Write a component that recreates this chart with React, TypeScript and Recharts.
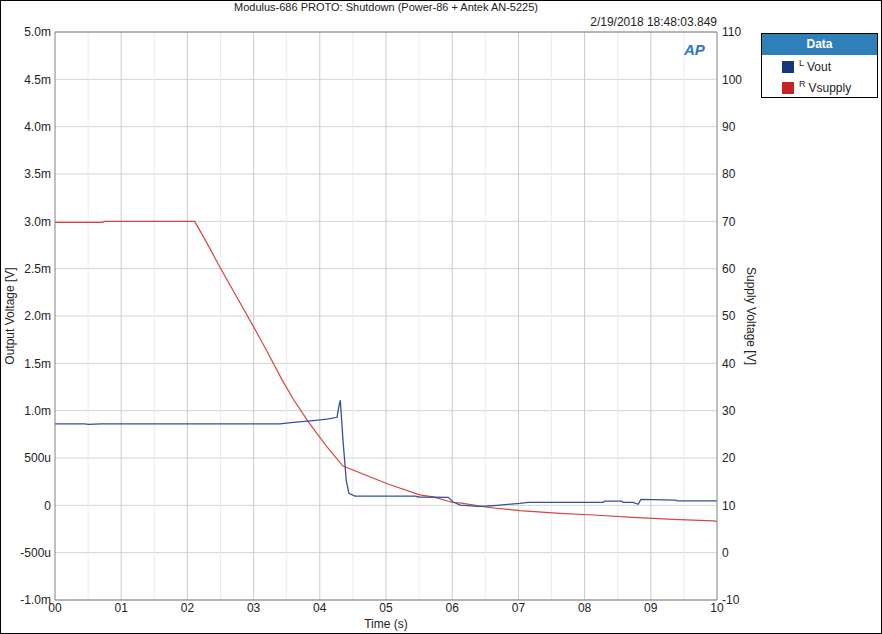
import { CartesianGrid, Line, LineChart, ReferenceLine, XAxis, YAxis } from 'recharts'

// Vout (left axis, mV)
const voutTime = [0, 0.45, 0.5, 0.7, 3.4, 3.6, 3.9, 4.11, 4.26, 4.29, 4.31, 4.35, 4.4, 4.44, 4.53, 5.44, 5.5, 5.94, 6.01, 6.12, 6.4, 6.53, 6.68, 7.02, 7.15, 8.28, 8.3, 8.56, 8.58, 8.73, 8.81, 8.85, 9.37, 9.4, 10]
const voutValues = [0.86, 0.86, 0.855, 0.86, 0.86, 0.876, 0.895, 0.91, 0.93, 1.05, 1.11, 0.69, 0.26, 0.127, 0.098, 0.098, 0.088, 0.085, 0.038, 0.003, -0.01, -0.007, 0.0, 0.021, 0.032, 0.032, 0.045, 0.045, 0.032, 0.032, 0.011, 0.063, 0.056, 0.048, 0.048]

// Vsupply (right axis, V)
const supplyTime = [0, 0.72, 0.75, 2.11, 2.3, 2.5, 2.75, 3.0, 3.2, 3.43, 3.6, 3.82, 3.95, 4.1, 4.2, 4.35, 5.03, 5.51, 5.71, 6.01, 6.12, 6.53, 7.02, 7.63, 8.13, 8.73, 9.34, 9.94, 10]
const supplyValues = [69.8, 69.8, 70, 70, 65.3, 60.1, 53.9, 47.7, 42.6, 36.5, 32.4, 27.8, 25.3, 22.5, 20.8, 18.3, 14.5, 12.2, 11.8, 10.6, 10.5, 9.6, 8.9, 8.3, 7.96, 7.47, 7.05, 6.7, 6.6]

const xTicks = [0, 1, 2, 3, 4, 5, 6, 7, 8, 9, 10]
const xMinor = [0.5, 1.5, 2.5, 3.5, 4.5, 5.5, 6.5, 7.5, 8.5, 9.5]
const leftTicks = [-1, -0.5, 0, 0.5, 1, 1.5, 2, 2.5, 3, 3.5, 4, 4.5, 5]
const rightTicks = [-10, 0, 10, 20, 30, 40, 50, 60, 70, 80, 90, 100, 110]

const voutData = voutTime.map((t, i) => ({ t, v: voutValues[i] }))
const supplyData = supplyTime.map((t, i) => ({ t, v: supplyValues[i] }))

const BLUE = '#33529b'
const RED = '#d64541'
const FONT = '"Liberation Sans", Arial, sans-serif'

function fmtLeft(v: number) {
  if (v === 0) return '0'
  if (Math.abs(v) >= 1) return v.toFixed(1) + 'm'
  return Math.round(v * 1000) + 'u'
}

const tickStyle = { fill: '#222', fontSize: 12, fontFamily: FONT }

export default function App() {
  return (
    <div style={{ position: 'absolute', left: 0, top: 0, width: 882, height: 634, background: '#fff', fontFamily: FONT, color: '#222' }}>
      <LineChart width={882} height={634} margin={{ top: 32, right: 125, left: 0, bottom: 0 }}>
        <CartesianGrid yAxisId="left" vertical={false} stroke="#d4d4d4" />
        {xMinor.map((x) => (
          <ReferenceLine key={'m' + x} x={x} yAxisId="left" stroke="#ebebeb" />
        ))}
        {xTicks.slice(1, -1).map((x) => (
          <ReferenceLine key={'M' + x} x={x} yAxisId="left" stroke="#cbcbcb" />
        ))}
        <ReferenceLine y={5} yAxisId="left" stroke="#808080" />
        <XAxis
          type="number"
          dataKey="t"
          domain={[0, 10]}
          ticks={xTicks}
          interval={0}
          height={34}
          tickSize={2}
          tickMargin={1}
          tickLine={false}
          stroke="#808080"
          tick={tickStyle}
          tickFormatter={(v) => String(v).padStart(2, '0')}
          allowDuplicatedCategory={false}
        />
        <YAxis
          yAxisId="left"
          orientation="left"
          type="number"
          domain={[-1, 5]}
          ticks={leftTicks}
          interval={0}
          width={55}
          tickSize={2}
          tickMargin={2}
          tickLine={false}
          stroke="#808080"
          tick={tickStyle}
          tickFormatter={fmtLeft}
        />
        <YAxis
          yAxisId="right"
          orientation="right"
          type="number"
          domain={[-10, 110]}
          ticks={rightTicks}
          interval={0}
          width={40}
          tickSize={2}
          tickMargin={3}
          tickLine={false}
          stroke="#808080"
          tick={tickStyle}
        />
        <Line
          yAxisId="right"
          data={supplyData}
          dataKey="v"
          type="linear"
          stroke={RED}
          strokeWidth={1.2}
          dot={false}
          isAnimationActive={false}
        />
        <Line
          yAxisId="left"
          data={voutData}
          dataKey="v"
          type="linear"
          stroke={BLUE}
          strokeWidth={1.3}
          dot={false}
          isAnimationActive={false}
        />
      </LineChart>

      {/* title and timestamp */}
      <div style={{ position: 'absolute', left: 55, width: 662, top: 0, textAlign: 'center', fontSize: 11, lineHeight: '14px' }}>
        Modulus-686 PROTO: Shutdown (Power-86 + Antek AN-5225)
      </div>
      <div style={{ position: 'absolute', right: 165, top: 15, fontSize: 12, lineHeight: '14px' }}>2/19/2018 18:48:03.849</div>

      {/* AP logo */}
      <div style={{ position: 'absolute', left: 684, top: 40, width: 26, height: 20, fontSize: 15, fontWeight: 'bold', fontStyle: 'italic', color: '#2a78c8', lineHeight: '20px' }}>
        AP
      </div>

      {/* axis titles */}
      <div style={{ position: 'absolute', left: 10, top: 316, fontSize: 12, whiteSpace: 'nowrap', transform: 'translate(-50%, -50%) rotate(-90deg)' }}>
        Output Voltage [V]
      </div>
      <div style={{ position: 'absolute', left: 751, top: 316, fontSize: 12, whiteSpace: 'nowrap', transform: 'translate(-50%, -50%) rotate(90deg)' }}>
        Supply Voltage [V]
      </div>
      <div style={{ position: 'absolute', left: 386, top: 617, fontSize: 12, lineHeight: '14px', whiteSpace: 'nowrap', transform: 'translateX(-50%)' }}>
        Time (s)
      </div>

      {/* legend */}
      <div style={{ position: 'absolute', left: 761, top: 33, width: 115, height: 63, border: '1px solid #000', background: '#fff' }}>
        <div style={{ height: 21, background: '#2f7fb8', color: '#fff', fontWeight: 'bold', fontSize: 12, lineHeight: '21px', textAlign: 'center' }}>Data</div>
        <div style={{ display: 'flex', alignItems: 'center', marginTop: 5, marginLeft: 20, fontSize: 12 }}>
          <span style={{ display: 'inline-block', width: 12, height: 12, background: '#17357a', marginRight: 5 }} />
          <span style={{ fontSize: 9, position: 'relative', top: -4, marginRight: 3 }}>L</span>
          Vout
        </div>
        <div style={{ display: 'flex', alignItems: 'center', marginTop: 7, marginLeft: 20, fontSize: 12 }}>
          <span style={{ display: 'inline-block', width: 12, height: 12, background: '#c42424', marginRight: 5 }} />
          <span style={{ fontSize: 9, position: 'relative', top: -4, marginRight: 3 }}>R</span>
          Vsupply
        </div>
      </div>

      {/* outer frame */}
      <div style={{ position: 'absolute', left: 0, top: 0, width: 882, height: 634, boxSizing: 'border-box', border: '1px solid #000', pointerEvents: 'none' }} />
    </div>
  )
}
